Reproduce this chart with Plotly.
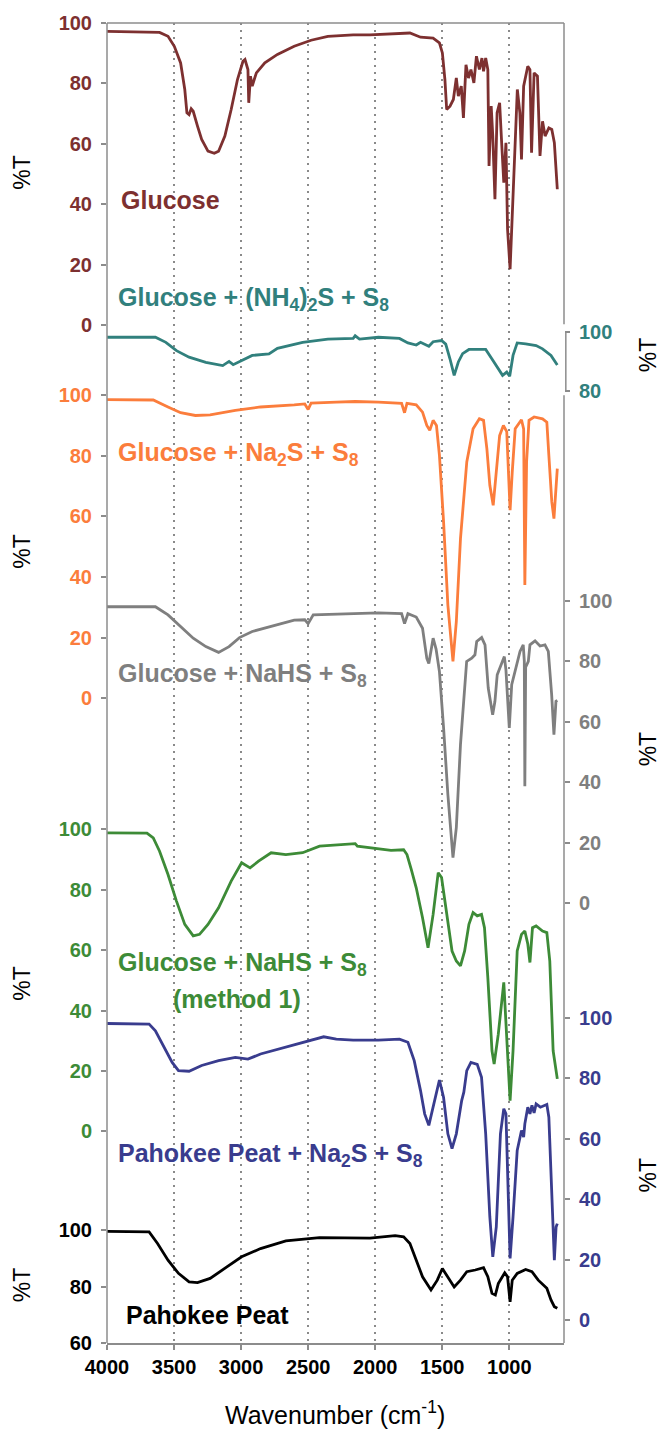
import plotly.graph_objects as go

# ---------------- spectra (wavenumber in cm-1, %T) ----------------
glucose_wn = [4000, 3608, 3545, 3498, 3451, 3420, 3404, 3388, 3372, 3357, 3325, 3294, 3247, 3200, 3168,
              3121, 3074, 3027, 2986, 2971, 2949, 2943, 2930, 2917, 2902, 2886, 2823, 2729, 2604, 2478,
              2353, 2164, 2039, 1882, 1741, 1662, 1568, 1521, 1499, 1480, 1467, 1442, 1417, 1395, 1380,
              1358, 1342, 1323, 1304, 1286, 1264, 1245, 1223, 1204, 1192, 1176, 1160, 1151, 1135, 1123,
              1107, 1091, 1072, 1057, 1041, 1025, 1013, 994, 978, 956, 940, 921, 909, 893, 862, 846, 834,
              815, 790, 771, 752, 733, 705, 683, 664, 642]
glucose_t = [97.2, 96.9, 95.6, 92.3, 86.8, 78.0, 70.3, 69.7, 71.6, 70.8, 65.9, 61.5, 57.6, 56.9, 57.6,
             62.6, 71.4, 81.3, 87.3, 87.9, 84.6, 73.6, 82.4, 79.1, 81.3, 83.5, 86.8, 89.6, 92.3, 94.3,
             95.6, 96.1, 96.1, 96.4, 96.7, 95.3, 95.0, 93.4, 90.1, 81.3, 71.4, 72.5, 74.7, 81.8, 75.8,
             79.1, 68.6, 86.2, 81.8, 84.6, 80.2, 89.0, 84.6, 88.4, 84.0, 88.4, 84.6, 52.7, 72.5, 62.6,
             41.7, 70.3, 73.6, 60.4, 47.2, 60.4, 31.8, 18.6, 35.1, 62.6, 78.0, 70.3, 54.9, 79.1, 85.7,
             84.6, 57.1, 83.5, 82.4, 56.0, 67.5, 62.6, 65.3, 64.8, 60.4, 45.0]

nh4_wn = [4000, 3639, 3561, 3482, 3388, 3263, 3137, 3090, 3059, 2996, 2917, 2792, 2729, 2541, 2353,
          2164, 2149, 2117, 1976, 1819, 1756, 1694, 1662, 1600, 1568, 1505, 1474, 1442, 1411, 1380,
          1348, 1301, 1176, 1129, 1082, 1050, 1019, 997, 972, 941, 878, 800, 752, 689, 642]
nh4_t = [98.1, 98.1, 96.4, 93.6, 91.4, 89.7, 88.6, 90.0, 88.9, 90.3, 92.0, 92.5, 94.4, 96.4, 97.5,
         97.7, 98.6, 97.5, 98.1, 97.7, 96.2, 95.5, 96.4, 95.1, 96.6, 97.0, 95.8, 90.8, 85.3, 89.8,
         92.6, 94.0, 94.0, 90.8, 87.5, 85.3, 86.4, 85.0, 92.0, 96.2, 95.9, 95.3, 94.2, 92.0, 88.8]

na2s_wn = [4000, 3655, 3545, 3451, 3341, 3231, 3043, 2855, 2604, 2525, 2500, 2478, 2290, 2149, 1976,
           1803, 1781, 1763, 1694, 1647, 1615, 1593, 1568, 1543, 1521, 1490, 1458, 1420, 1395, 1364,
           1317, 1270, 1223, 1192, 1167, 1145, 1120, 1097, 1072, 1044, 1019, 1003, 994, 978, 956,
           909, 893, 884, 871, 853, 815, 752, 720, 705, 683, 667, 651, 642]
na2s_t = [98.5, 98.4, 96.1, 94.2, 93.3, 93.5, 95.0, 96.1, 96.8, 97.1, 95.3, 97.4, 97.7, 97.9, 97.7,
          97.3, 94.2, 97.3, 96.8, 94.4, 90.0, 88.4, 91.7, 90.0, 80.2, 58.2, 30.8, 12.2, 25.3, 52.7,
          78.0, 88.9, 92.2, 91.7, 82.3, 70.3, 63.7, 73.6, 86.7, 90.0, 88.0, 71.4, 62.1, 74.6, 88.9,
          91.9, 88.9, 37.4, 78.0, 91.7, 92.8, 92.2, 91.1, 80.2, 64.8, 59.3, 72.4, 75.8]

nahs_wn = [4000, 3639, 3545, 3451, 3357, 3263, 3168, 3090, 3012, 2917, 2792, 2604, 2525, 2500, 2462,
           2290, 2149, 1976, 1803, 1781, 1756, 1694, 1647, 1615, 1600, 1568, 1546, 1521, 1490, 1458,
           1420, 1395, 1364, 1318, 1280, 1256, 1243, 1206, 1181, 1157, 1124, 1107, 1090, 1064, 1037,
           1025, 1000, 982, 957, 920, 896, 888, 884, 878, 858, 846, 808, 771, 734, 709, 684, 667,
           652, 642]
nahs_t = [98.0, 98.0, 95.3, 91.4, 87.6, 84.8, 82.9, 84.8, 87.8, 89.8, 91.4, 93.6, 93.7, 92.4, 95.3,
          95.5, 95.7, 96.0, 95.7, 92.4, 95.7, 94.6, 90.9, 80.9, 79.2, 87.6, 84.0, 76.6, 57.9, 35.9,
          15.0, 24.9, 52.4, 79.9, 81.0, 82.1, 86.5, 87.8, 85.4, 71.1, 62.3, 66.7, 75.5, 78.8, 81.5,
          77.1, 57.9, 72.2, 76.6, 83.2, 85.4, 80.0, 38.6, 78.0, 79.9, 85.4, 86.7, 85.0, 85.4, 83.2,
          68.9, 55.7, 66.7, 67.0]

method1_wn = [4000, 3702, 3655, 3608, 3545, 3482, 3420, 3357, 3310, 3247, 3168, 3074, 2996, 2933, 2870,
              2776, 2666, 2541, 2415, 2290, 2149, 2133, 1976, 1882, 1788, 1763, 1731, 1694, 1647, 1606,
              1568, 1530, 1505, 1474, 1427, 1395, 1364, 1333, 1301, 1270, 1239, 1207, 1185, 1160, 1129,
              1113, 1082, 1041, 1019, 994, 972, 941, 909, 884, 862, 846, 827, 800, 752, 720, 698, 673,
              642]
method1_t = [98.8, 98.7, 97.1, 92.7, 85.0, 76.2, 68.5, 64.7, 65.2, 68.5, 74.0, 82.8, 88.9, 87.2, 89.4,
             92.2, 91.6, 92.2, 94.4, 94.7, 95.2, 94.4, 93.6, 93.0, 93.2, 91.6, 86.7, 80.6, 70.7, 60.8,
             71.8, 85.6, 84.0, 74.0, 59.7, 56.4, 54.8, 59.7, 68.5, 72.4, 71.3, 71.8, 67.4, 50.9, 26.7,
             22.3, 32.2, 49.3, 32.3, 10.2, 26.7, 59.7, 65.2, 66.3, 62.0, 55.9, 67.4, 68.0, 66.3, 65.8,
             56.4, 26.7, 17.4]

peat_s_wn = [4000, 3686, 3639, 3576, 3514, 3467, 3388, 3294, 3168, 3043, 2949, 2855, 2666, 2541, 2384,
             2290, 2164, 1976, 1819, 1756, 1709, 1662, 1631, 1600, 1568, 1521, 1490, 1458, 1427, 1395,
             1355, 1339, 1317, 1286, 1239, 1207, 1176, 1145, 1123, 1097, 1066, 1041, 1025, 1003, 994,
             972, 941, 909, 893, 884, 862, 846, 831, 815, 800, 768, 720, 705, 683, 664, 651, 642]
peat_s_t = [98.1, 97.9, 95.7, 90.2, 85.2, 82.5, 82.3, 84.2, 85.8, 86.9, 86.3, 88.0, 90.2, 91.9, 93.7,
            92.9, 92.6, 92.6, 92.9, 91.9, 85.8, 75.9, 68.2, 64.4, 70.4, 79.4, 73.6, 61.6, 56.7, 61.6,
            72.6, 75.4, 82.5, 85.2, 84.6, 80.3, 61.6, 34.1, 20.9, 30.8, 61.6, 69.9, 68.2, 34.1, 20.4,
            34.1, 56.1, 62.7, 60.5, 64.9, 70.4, 68.2, 71.0, 68.5, 71.5, 70.4, 71.3, 67.1, 39.6, 19.8,
            30.8, 31.9]

peat_wn = [4000, 3686, 3623, 3545, 3467, 3388, 3325, 3231, 3106, 2996, 2855, 2666, 2415, 2164, 2039,
           1851, 1788, 1741, 1694, 1647, 1584, 1537, 1499, 1458, 1411, 1364, 1317, 1254, 1192, 1160,
           1129, 1104, 1082, 1034, 1013, 994, 978, 941, 878, 831, 784, 720, 689, 664, 642]
peat_t = [99.6, 99.4, 95.3, 89.4, 84.7, 81.7, 81.4, 82.9, 87.0, 90.6, 93.5, 96.2, 97.4, 97.1, 97.2,
          98.1, 97.7, 95.3, 89.4, 83.5, 78.8, 82.3, 86.4, 83.5, 79.9, 82.3, 85.3, 85.9, 86.7, 83.5,
          77.6, 77.0, 81.1, 84.9, 83.5, 74.6, 82.3, 84.7, 86.1, 85.3, 82.3, 79.4, 75.3, 72.9, 72.3]

x_ticks = [4000, 3500, 3000, 2500, 2000, 1500, 1000]

# ---------------- canvas geometry ----------------
W, H = 660, 1429
L, R, T, B = 107, 564, 20, 1343          # plot area edges (px)
PW, PH = R - L, B - T
X_RANGE = [4000, 592]


def px(x):
    return (x - L) / PW


def py(y):
    return (B - y) / PH


def stacked_range(v_lo, p_lo, v_hi, p_hi):
    """Axis range over the full plot height so that v_lo sits at pixel p_lo and v_hi at p_hi."""
    scale = (p_lo - p_hi) / (v_hi - v_lo)
    top = v_hi + (p_hi - T) / scale
    return [top - PH / scale, top]


BROWN, TEAL, ORANGE, GRAY = "#7d3030", "#31807d", "#fb7d3c", "#7f7f7f"
GREEN, BLUE, BLACK = "#3d8b37", "#393c8e", "#000000"
FRAME = "#8c8c8c"
FONT = "Liberation Sans"

# (name, wn, %T, colour, side, tick values, range anchors)
series = [
    ("Glucose", glucose_wn, glucose_t, BROWN, "left", [0, 20, 40, 60, 80, 100], (0, 323, 100, 20)),
    ("Glucose + (NH4)2S + S8", nh4_wn, nh4_t, TEAL, "right", [80, 100], (80, 389, 100, 329.3)),
    ("Glucose + Na2S + S8", na2s_wn, na2s_t, ORANGE, "left", [0, 20, 40, 60, 80, 100], (0, 697, 100, 393)),
    ("Glucose + NaHS + S8", nahs_wn, nahs_t, GRAY, "right", [0, 20, 40, 60, 80, 100], (0, 902, 100, 599)),
    ("Glucose + NaHS + S8 (method 1)", method1_wn, method1_t, GREEN, "left", [0, 20, 40, 60, 80, 100], (0, 1131, 100, 828)),
    ("Pahokee Peat + Na2S + S8", peat_s_wn, peat_s_t, BLUE, "right", [0, 20, 40, 60, 80, 100], (0, 1320, 100, 1017)),
    ("Pahokee Peat", peat_wn, peat_t, BLACK, "left", [60, 80, 100], (60, 1343, 100, 1230)),
]

fig = go.Figure()
layout_axes = {}
for i, (name, wn, t, color, side, tvals, anchors) in enumerate(series):
    ref = "y" if i == 0 else f"y{i + 1}"
    key = "yaxis" if i == 0 else f"yaxis{i + 1}"
    fig.add_trace(go.Scatter(x=wn, y=t, mode="lines", name=name, yaxis=ref,
                             line=dict(color=color, width=2.8), showlegend=False))
    ax = dict(range=stacked_range(*anchors), side=side, tickmode="array", tickvals=tvals,
              ticks="outside", ticklen=5, tickwidth=1.5, tickcolor=FRAME,
              tickfont=dict(family=FONT, size=20, color=color, weight="bold"),
              ticklabelstandoff=5, showgrid=False, zeroline=False, showline=False,
              fixedrange=True)
    if i > 0:
        ax.update(overlaying="y", anchor="x")
    layout_axes[key] = ax

fig.update_layout(**layout_axes)

fig.update_layout(
    width=W, height=H,
    margin=dict(l=L, r=W - R, t=T, b=H - B),
    paper_bgcolor="white", plot_bgcolor="white",
    xaxis=dict(range=X_RANGE, tickmode="array", tickvals=x_ticks,
               ticks="outside", ticklen=5, tickwidth=1.5, tickcolor=FRAME,
               showline=True, linecolor=FRAME, linewidth=1.5,
               showgrid=True, gridcolor="#8a8a8a", gridwidth=2, griddash="2px,5px",
               zeroline=False,
               tickfont=dict(family=FONT, size=20, color="black", weight="bold")),
)

# frame: left axis, top edge and the right edge (broken where the teal axis sits)
frame = [
    (0, 0, 0, 1),
    (0, 1, 1, 1),
    (1, py(20), 1, py(322)),
    (1, py(393), 1, 0),
]
for x0, y0, x1, y1 in frame:
    fig.add_shape(type="line", xref="paper", yref="paper", x0=x0, y0=y0, x1=x1, y1=y1,
                  line=dict(color=FRAME, width=1.5))
fig.add_shape(type="line", xref="paper", yref="y2", x0=1.004, x1=1.004, y0=80, y1=100,
              line=dict(color=FRAME, width=1.5))

# spectrum labels
labels = [
    ("Glucose", BROWN, 119, 197, "left"),
    ("Glucose + (NH<sub>4</sub>)<sub>2</sub>S + S<sub>8</sub>", TEAL, 116, 297, "left"),
    ("Glucose + Na<sub>2</sub>S + S<sub>8</sub>", ORANGE, 116, 452, "left"),
    ("Glucose + NaHS + S<sub>8</sub>", GRAY, 116, 673, "left"),
    ("Glucose + NaHS + S<sub>8</sub>", GREEN, 116, 963, "left"),
    ("(method 1)", GREEN, 237, 998, "center"),
    ("Pahokee Peat + Na<sub>2</sub>S + S<sub>8</sub>", BLUE, 116, 1155, "left"),
    ("Pahokee Peat", BLACK, 124, 1315, "left"),
]
for text, color, x, y, anchor in labels:
    fig.add_annotation(text=text, xref="paper", yref="paper", x=px(x), y=py(y),
                       xanchor=anchor, yanchor="middle", showarrow=False,
                       font=dict(family=FONT, size=25, color=color, weight="bold"))

# %T axis titles
for x, y in [(22, 170), (22, 550), (22, 983), (22, 1285), (648, 353), (648, 748), (648, 1175)]:
    fig.add_annotation(text="%T", xref="paper", yref="paper", x=px(x), y=py(y),
                       xanchor="center", yanchor="middle", textangle=-90, showarrow=False,
                       font=dict(family=FONT, size=23, color="black"))

fig.add_annotation(text="Wavenumber (cm<sup>-1</sup>)", xref="paper", yref="paper",
                   x=px(335), y=py(1413), xanchor="center", yanchor="middle", showarrow=False,
                   font=dict(family=FONT, size=25, color="black"))

fig.write_html("out.html")
